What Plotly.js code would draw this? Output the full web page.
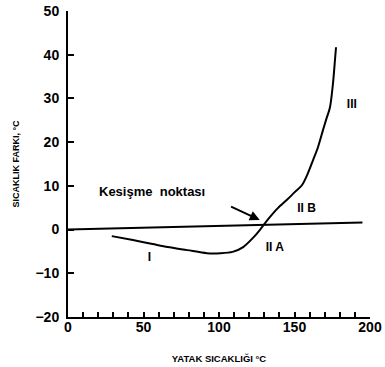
<!DOCTYPE html>
<html>
<head>
<meta charset="utf-8">
<script src="https://cdn.plot.ly/plotly-3.0.1.min.js"></script>
<style>html,body{margin:0;padding:0;background:#fff;}#chart{width:385px;height:367px;}</style>
</head>
<body>
<div id="chart"></div>
<script>
// Curve I - II A - II B - III
const curveX = [29, 43, 56, 66, 79, 92, 101, 109, 116, 122.5, 127, 130.5, 133.8, 139, 145, 150, 155, 158.9, 162.3, 165.6, 168.9, 170.9, 173.5, 175.5, 176.8, 177.5];
const curveY = [-1.5, -2.4, -3.3, -4.0, -4.7, -5.4, -5.4, -5.1, -4.0, -1.9, -0.1, 1.5, 2.9, 4.9, 6.8, 8.5, 10.2, 12.9, 15.9, 18.9, 22.8, 25.1, 28.0, 33.5, 38.8, 41.7];
// nearly horizontal reference line
const lineX = [0, 195];
const lineY = [0, 1.6];
// axis ticks
const xTickVals = [0,10,20,30,40,50,60,70,80,90,100,110,120,130,140,150,160,170,180,190,200];
const xTickText = ['0','','','','','50','','','','','100','','','','','150','','','','','200'];
const yTickVals = [-20,-10,0,10,20,30,40,50];
const yTickText = ['\u221220','\u221210','0','10','20','30','40','50'];
// region labels
const labelText = ['I', 'II A', 'II B', 'III'];
const labelX = [54, 137, 158, 188];
const labelY = [-6.5, -4.2, 4.6, 28.5];

const FAM = 'Liberation Sans, Arial, sans-serif';
const txtFont = {family: FAM, size: 12, color: '#000', weight: 'bold'};

const traces = [
  {x: lineX, y: lineY, mode: 'lines', line: {color: '#000', width: 2}, hoverinfo: 'skip'},
  {x: curveX, y: curveY, mode: 'lines', line: {color: '#000', width: 2, shape: 'spline', smoothing: 0.8}, hoverinfo: 'skip'},
  {x: labelX, y: labelY, mode: 'text', text: labelText, textfont: txtFont, hoverinfo: 'skip'}
];

const layout = {
  width: 385, height: 367,
  margin: {l: 68, r: 15, t: 11, b: 50},
  paper_bgcolor: '#fff', plot_bgcolor: '#fff',
  showlegend: false,
  font: {family: FAM, color: '#000'},
  xaxis: {
    range: [0, 200], showgrid: false, zeroline: false,
    showline: true, linecolor: '#000', linewidth: 2,
    ticks: 'inside', ticklen: 5, tickwidth: 2, tickcolor: '#000',
    tickmode: 'array', tickvals: xTickVals, ticktext: xTickText,
    ticklabelstandoff: -4,
    tickfont: {size: 14, weight: 'bold', family: FAM},
    title: {text: 'YATAK SICAKLIĞI °C', font: {size: 9.5, weight: 'bold', family: FAM}, standoff: 22}
  },
  yaxis: {
    range: [-20, 50], showgrid: false, zeroline: false,
    showline: true, linecolor: '#000', linewidth: 2,
    ticks: 'inside', ticklen: 6, tickwidth: 2, tickcolor: '#000',
    tickmode: 'array', tickvals: yTickVals, ticktext: yTickText,
    ticklabelstandoff: 4,
    tickfont: {size: 14, weight: 'bold', family: FAM},
    title: {text: 'SICAKLIK FARKI, °C', font: {size: 9, weight: 'bold', family: FAM}, standoff: 14}
  },
  annotations: [
    {x: 127, y: 2.2, ax: 107, ay: 5.4, axref: 'x', ayref: 'y', xref: 'x', yref: 'y',
     text: '', showarrow: true, arrowhead: 2, arrowsize: 1, arrowwidth: 2, arrowcolor: '#000'},
    {x: 19, y: 8.6, xref: 'x', yref: 'y', xanchor: 'left', yanchor: 'middle',
     text: 'Kesişme&nbsp;&nbsp;noktası', showarrow: false, font: {size: 13, weight: 'bold', family: FAM}}
  ]
};

Plotly.newPlot('chart', traces, layout, {staticPlot: true, displayModeBar: false});
</script>
</body>
</html>
